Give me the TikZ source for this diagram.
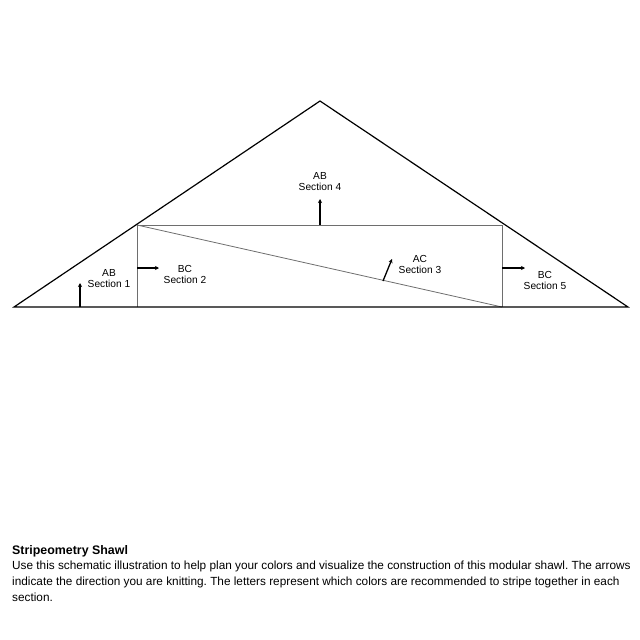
\documentclass[tikz,border=0pt]{standalone}
\usepackage{fontspec}
\setmainfont{Liberation Sans}
\usepackage{xcolor}
\definecolor{seamgray}{HTML}{6E6E6E}
\usepackage{tikz}
\usetikzlibrary{arrows.meta,positioning,calc}
\frenchspacing
\hyphenpenalty=10000
\exhyphenpenalty=10000
\begin{document}
\begin{tikzpicture}[x=1pt, y=-1pt,
    edge/.style={black, line width=1.2pt},
    seam/.style={seamgray, line width=0.8pt},
    dirarrow/.style={black, line width=1.3pt, -{Stealth[length=4pt,width=4pt]}},
    lbl/.style={font=\fontsize{10.2}{11}\selectfont, align=center, inner sep=0pt}]
        \useasboundingbox (0,0) rectangle (640,640);
        % Outline corners
        \coordinate (left) at (14,307);
        \coordinate (apex) at (320,101);
        \coordinate (right) at (628,307);
        \coordinate (nw) at (137,225);
        \coordinate (ne) at (502,225);
        \coordinate (sw) at (137,307);
        \coordinate (se) at (502,307);
        % Inner seams
        \draw[seam] (nw) -- (ne) -- (se);
        \draw[seam] (nw) -- (sw);
        \draw[seam] (nw) -- (se);
        % Shawl outline
        \draw[edge] (left) -- (apex) -- (right) -- cycle;
        % Knitting direction
        \coordinate (a1s) at (80,307);  \coordinate (a1e) at (80,283);
        \coordinate (a2s) at (137,268); \coordinate (a2e) at (159,268);
        \coordinate (a3s) at (383,281); \coordinate (a3e) at (392,259);
        \coordinate (a4s) at (320,225); \coordinate (a4e) at (320,199);
        \coordinate (a5s) at (502,268); \coordinate (a5e) at (525,268);
        \foreach \i in {1,...,5} {
          \draw[dirarrow] (a\i s) -- (a\i e);
        }
        % Section labels
        \node[lbl] (sec1) at (109,279) {AB\\Section 1};
        \node[lbl] (sec2) at (185,274) {BC\\Section 2};
        \node[lbl] (sec3) at (420,264) {AC\\Section 3};
        \node[lbl] (sec4) at (320,182) {AB\\Section 4};
        \node[lbl] (sec5) at (545,280) {BC\\Section 5};
        % Caption
        \node[anchor=north west, inner sep=0pt, font=\fontsize{12.4}{12}\bfseries] (title) at (12,545) {Stripeometry Shawl};
        \node[anchor=north west, inner sep=0pt, text width=620pt, align=flush left,
              font=\fontsize{11.8}{16}\selectfont] (desc) at (12,561)
          {Use this schematic illustration to help plan your colors and visualize the construction of this modular shawl. The arrows indicate the direction you are knitting. The letters represent which colors are recommended to stripe together in each section.};
      \end{tikzpicture}
\end{document}
